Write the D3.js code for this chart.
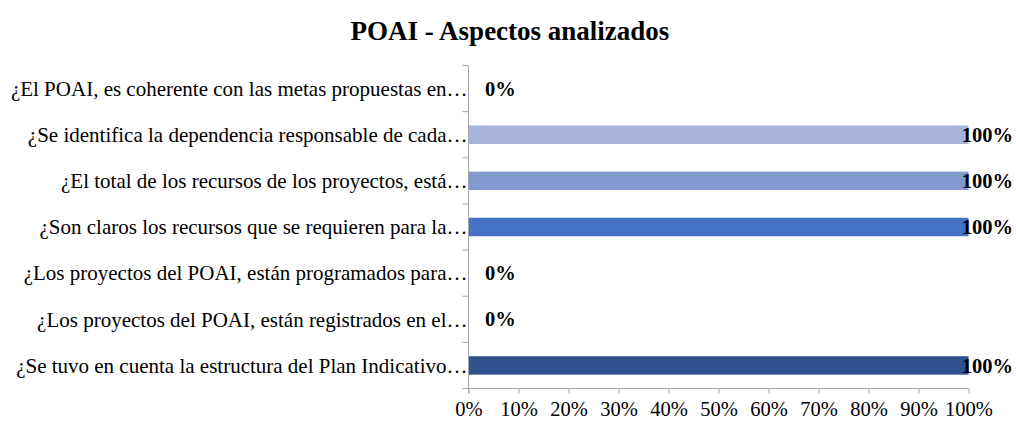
<!DOCTYPE html>
<html><head><meta charset="utf-8">
<script src="https://cdn.jsdelivr.net/npm/d3@7"></script>
<style>body{margin:0;background:#fff;} svg{display:block;}</style>
</head><body>
<script>
const title = "POAI - Aspectos analizados";
const categories = [
  "¿El POAI, es coherente con las metas propuestas en…",
  "¿Se identifica la dependencia responsable de cada…",
  "¿El total de los recursos de los proyectos, está…",
  "¿Son claros los recursos que se requieren para la…",
  "¿Los proyectos del POAI, están programados para…",
  "¿Los proyectos del POAI, están registrados en el…",
  "¿Se tuvo en cuenta la estructura del Plan Indicativo…"
];
const values = [0, 1, 1, 1, 0, 0, 1];
const barColors = ["#c5cfe8", "#a6b4da", "#8199cf", "#4472c4", "#3a62ab", "#34599c", "#2f528f"];
const xTicks = [0, 0.1, 0.2, 0.3, 0.4, 0.5, 0.6, 0.7, 0.8, 0.9, 1];

(function() {
const W = 1016, H = 425;
const font = "'Liberation Serif', 'Times New Roman', serif";
const fs = 20.5;
const svg = d3.select("body").append("svg").attr("width", W).attr("height", H);

const pLeft = 468.5, pRight = 968.5, pTop = 65.5, pBottom = 388.5;
const x = d3.scaleLinear().domain([0, 1]).range([pLeft, pRight]);
const y = d3.scaleBand().domain(categories).range([pTop, pBottom]).paddingInner(0.6).paddingOuter(0.3);
const yb = d3.scaleBand().domain(categories).range([pTop, pBottom]);

svg.append("text").attr("x", 510).attr("y", 40).attr("text-anchor", "middle")
  .attr("font-family", font).attr("font-weight", "bold").attr("font-size", 27).text(title);

// bars
svg.append("g").selectAll("rect").data(values).join("rect")
  .attr("x", x(0)).attr("y", (d, i) => y(categories[i]))
  .attr("width", d => x(d) - x(0)).attr("height", y.bandwidth())
  .attr("fill", (d, i) => barColors[i]);

const axisColor = "#a6a6a6";
// y axis
const gy = svg.append("g").attr("transform", `translate(${pLeft},0)`)
  .call(d3.axisLeft(yb).tickSize(0).tickFormat(""));
gy.select(".domain").remove();
gy.append("line").attr("x1", 0).attr("x2", 0).attr("y1", pTop).attr("y2", pBottom + 5).attr("stroke", axisColor);
gy.selectAll(".bt").data(d3.range(categories.length + 1)).join("line")
  .attr("x1", -6).attr("x2", 0)
  .attr("y1", i => pTop + i * yb.step()).attr("y2", i => pTop + i * yb.step())
  .attr("stroke", axisColor);

// x axis
const gx = svg.append("g").attr("transform", `translate(0,${pBottom})`)
  .call(d3.axisBottom(x).tickValues(xTicks).tickSize(5).tickPadding(8).tickFormat(d3.format(".0%")));
gx.select(".domain").attr("stroke", axisColor).attr("d", `M${pLeft},0H${pRight}`);
gx.selectAll(".tick line").attr("stroke", axisColor);
gx.selectAll(".tick text").attr("font-family", font).attr("font-size", fs).attr("fill", "#000");

// category labels
svg.append("g").selectAll("text").data(categories).join("text")
  .attr("x", pLeft - 1).attr("y", d => yb(d) + yb.bandwidth() / 2).attr("dy", "0.35em")
  .attr("text-anchor", "end").attr("font-family", font).attr("font-size", 21).attr("fill", "#000")
  .text(d => d);

// data labels
svg.append("g").selectAll("text").data(values).join("text")
  .attr("y", (d, i) => yb(categories[i]) + yb.bandwidth() / 2).attr("dy", "0.35em")
  .attr("font-family", font).attr("font-size", fs).attr("font-weight", "bold").attr("fill", "#000")
  .text(d => d3.format(".0%")(d))
  .attr("x", function(d) { const w = this.getComputedTextLength(); return Math.min(x(d) + 16.5, W - 3 - w); });
})();
</script>
</body></html>
